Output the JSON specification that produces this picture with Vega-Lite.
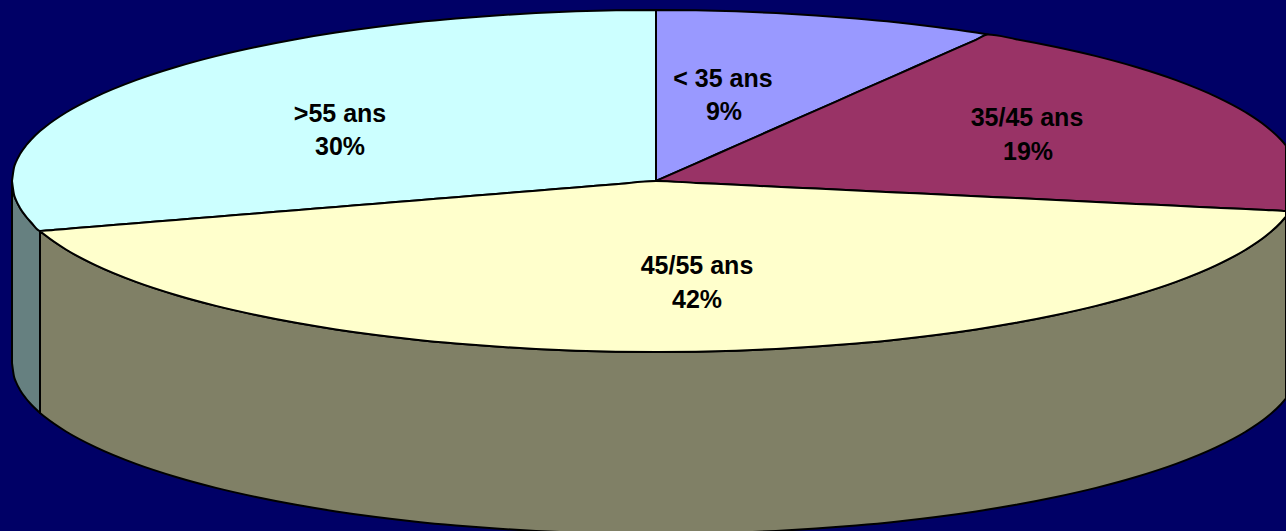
{"$schema":"https://vega.github.io/schema/vega-lite/v6.json","width":1286,"height":531,"autosize":{"type":"fit","contains":"padding"},"padding":0,"background":"#000066","view":{"stroke":null},"layer":[{"data":{"values":[
{"slice":"side-teal","x":12,"y":181,"y2":363},{"slice":"side-teal","x":14,"y":194.5,"y2":376.5},{"slice":"side-teal","x":16,"y":200,"y2":382},{"slice":"side-teal","x":20,"y":207.9,"y2":389.9},{"slice":"side-teal","x":26,"y":216.5,"y2":398.5},{"slice":"side-teal","x":31,"y":222.2,"y2":404.2},{"slice":"side-teal","x":40,"y":230.9,"y2":412.9},
{"slice":"side-olive","x":40,"y":230.9,"y2":412.9},{"slice":"side-olive","x":46,"y":235.8,"y2":417.8},{"slice":"side-olive","x":66,"y":249.5,"y2":431.5},{"slice":"side-olive","x":96,"y":265.4,"y2":447.4},{"slice":"side-olive","x":136,"y":281.9,"y2":463.9},{"slice":"side-olive","x":176,"y":295,"y2":477},{"slice":"side-olive","x":216,"y":305.9,"y2":487.9},{"slice":"side-olive","x":256,"y":315,"y2":497},{"slice":"side-olive","x":296,"y":322.8,"y2":504.8},{"slice":"side-olive","x":336,"y":329.4,"y2":511.4},{"slice":"side-olive","x":376,"y":335,"y2":517},{"slice":"side-olive","x":416,"y":339.7,"y2":521.7},{"slice":"side-olive","x":456,"y":343.5,"y2":525.5},{"slice":"side-olive","x":496,"y":346.6,"y2":528.6},{"slice":"side-olive","x":536,"y":349,"y2":531},{"slice":"side-olive","x":576,"y":350.7,"y2":532.7},{"slice":"side-olive","x":616,"y":351.7,"y2":533.7},{"slice":"side-olive","x":656,"y":352,"y2":534},{"slice":"side-olive","x":696,"y":351.7,"y2":533.7},{"slice":"side-olive","x":736,"y":350.7,"y2":532.7},{"slice":"side-olive","x":776,"y":349,"y2":531},{"slice":"side-olive","x":816,"y":346.6,"y2":528.6},{"slice":"side-olive","x":856,"y":343.5,"y2":525.5},{"slice":"side-olive","x":896,"y":339.7,"y2":521.7},{"slice":"side-olive","x":936,"y":335,"y2":517},{"slice":"side-olive","x":976,"y":329.4,"y2":511.4},{"slice":"side-olive","x":1016,"y":322.8,"y2":504.8},{"slice":"side-olive","x":1056,"y":315,"y2":497},{"slice":"side-olive","x":1096,"y":305.9,"y2":487.9},{"slice":"side-olive","x":1136,"y":295,"y2":477},{"slice":"side-olive","x":1176,"y":281.9,"y2":463.9},{"slice":"side-olive","x":1216,"y":265.4,"y2":447.4},{"slice":"side-olive","x":1246,"y":249.5,"y2":431.5},{"slice":"side-olive","x":1266,"y":235.8,"y2":417.8},{"slice":"side-olive","x":1281,"y":222.2,"y2":404.2},{"slice":"side-olive","x":1286,"y":216.5,"y2":398.5},
{"slice":">55 ans","x":12,"y":181,"y2":181},{"slice":">55 ans","x":14,"y":167.5,"y2":194.5},{"slice":">55 ans","x":16,"y":162,"y2":200},{"slice":">55 ans","x":20,"y":154.1,"y2":207.9},{"slice":">55 ans","x":26,"y":145.5,"y2":216.5},{"slice":">55 ans","x":31,"y":139.8,"y2":222.2},{"slice":">55 ans","x":40,"y":131.1,"y2":230.9},{"slice":">55 ans","x":46,"y":126.2,"y2":230.5},{"slice":">55 ans","x":66,"y":112.5,"y2":228.9},{"slice":">55 ans","x":96,"y":96.6,"y2":226.5},{"slice":">55 ans","x":136,"y":80.1,"y2":223.2},{"slice":">55 ans","x":176,"y":67,"y2":220},{"slice":">55 ans","x":216,"y":56.1,"y2":216.7},{"slice":">55 ans","x":256,"y":47,"y2":213.5},{"slice":">55 ans","x":296,"y":39.2,"y2":210.2},{"slice":">55 ans","x":336,"y":32.6,"y2":207},{"slice":">55 ans","x":376,"y":27,"y2":203.7},{"slice":">55 ans","x":416,"y":22.3,"y2":200.5},{"slice":">55 ans","x":456,"y":18.5,"y2":197.2},{"slice":">55 ans","x":496,"y":15.4,"y2":194},{"slice":">55 ans","x":536,"y":13,"y2":190.7},{"slice":">55 ans","x":576,"y":11.3,"y2":187.5},{"slice":">55 ans","x":616,"y":10.3,"y2":184.2},{"slice":">55 ans","x":656,"y":10,"y2":181},
{"slice":"< 35 ans","x":656,"y":10,"y2":181},{"slice":"< 35 ans","x":696,"y":10.3,"y2":163.3},{"slice":"< 35 ans","x":736,"y":11.3,"y2":145.7},{"slice":"< 35 ans","x":776,"y":13,"y2":128},{"slice":"< 35 ans","x":816,"y":15.4,"y2":110.4},{"slice":"< 35 ans","x":856,"y":18.5,"y2":92.7},{"slice":"< 35 ans","x":896,"y":22.3,"y2":75.1},{"slice":"< 35 ans","x":936,"y":27,"y2":57.4},{"slice":"< 35 ans","x":976,"y":32.6,"y2":39.8},{"slice":"< 35 ans","x":988,"y":34.5,"y2":34.5},
{"slice":"35/45 ans","x":656,"y":181,"y2":181},{"slice":"35/45 ans","x":696,"y":163.3,"y2":182.9},{"slice":"35/45 ans","x":736,"y":145.7,"y2":184.8},{"slice":"35/45 ans","x":776,"y":128,"y2":186.7},{"slice":"35/45 ans","x":816,"y":110.4,"y2":188.6},{"slice":"35/45 ans","x":856,"y":92.7,"y2":190.5},{"slice":"35/45 ans","x":896,"y":75.1,"y2":192.4},{"slice":"35/45 ans","x":936,"y":57.4,"y2":194.3},{"slice":"35/45 ans","x":976,"y":39.8,"y2":196.2},{"slice":"35/45 ans","x":988,"y":34.5,"y2":196.8},{"slice":"35/45 ans","x":1016,"y":39.2,"y2":198.1},{"slice":"35/45 ans","x":1056,"y":47,"y2":200},{"slice":"35/45 ans","x":1096,"y":56.1,"y2":202},{"slice":"35/45 ans","x":1136,"y":67,"y2":203.9},{"slice":"35/45 ans","x":1176,"y":80.1,"y2":205.8},{"slice":"35/45 ans","x":1216,"y":96.6,"y2":207.7},{"slice":"35/45 ans","x":1246,"y":112.5,"y2":209.1},{"slice":"35/45 ans","x":1266,"y":126.2,"y2":210},{"slice":"35/45 ans","x":1281,"y":139.8,"y2":210.8},{"slice":"35/45 ans","x":1286,"y":145.5,"y2":211},
{"slice":"45/55 ans","x":40,"y":230.9,"y2":230.9},{"slice":"45/55 ans","x":46,"y":230.5,"y2":235.8},{"slice":"45/55 ans","x":66,"y":228.9,"y2":249.5},{"slice":"45/55 ans","x":96,"y":226.5,"y2":265.4},{"slice":"45/55 ans","x":136,"y":223.2,"y2":281.9},{"slice":"45/55 ans","x":176,"y":220,"y2":295},{"slice":"45/55 ans","x":216,"y":216.7,"y2":305.9},{"slice":"45/55 ans","x":256,"y":213.5,"y2":315},{"slice":"45/55 ans","x":296,"y":210.2,"y2":322.8},{"slice":"45/55 ans","x":336,"y":207,"y2":329.4},{"slice":"45/55 ans","x":376,"y":203.7,"y2":335},{"slice":"45/55 ans","x":416,"y":200.5,"y2":339.7},{"slice":"45/55 ans","x":456,"y":197.2,"y2":343.5},{"slice":"45/55 ans","x":496,"y":194,"y2":346.6},{"slice":"45/55 ans","x":536,"y":190.7,"y2":349},{"slice":"45/55 ans","x":576,"y":187.5,"y2":350.7},{"slice":"45/55 ans","x":616,"y":184.2,"y2":351.7},{"slice":"45/55 ans","x":656,"y":181,"y2":352},{"slice":"45/55 ans","x":696,"y":182.9,"y2":351.7},{"slice":"45/55 ans","x":736,"y":184.8,"y2":350.7},{"slice":"45/55 ans","x":776,"y":186.7,"y2":349},{"slice":"45/55 ans","x":816,"y":188.6,"y2":346.6},{"slice":"45/55 ans","x":856,"y":190.5,"y2":343.5},{"slice":"45/55 ans","x":896,"y":192.4,"y2":339.7},{"slice":"45/55 ans","x":936,"y":194.3,"y2":335},{"slice":"45/55 ans","x":976,"y":196.2,"y2":329.4},{"slice":"45/55 ans","x":1016,"y":198.1,"y2":322.8},{"slice":"45/55 ans","x":1056,"y":200,"y2":315},{"slice":"45/55 ans","x":1096,"y":202,"y2":305.9},{"slice":"45/55 ans","x":1136,"y":203.9,"y2":295},{"slice":"45/55 ans","x":1176,"y":205.8,"y2":281.9},{"slice":"45/55 ans","x":1216,"y":207.7,"y2":265.4},{"slice":"45/55 ans","x":1246,"y":209.1,"y2":249.5},{"slice":"45/55 ans","x":1266,"y":210,"y2":235.8},{"slice":"45/55 ans","x":1281,"y":210.8,"y2":222.2},{"slice":"45/55 ans","x":1286,"y":211,"y2":216.5}
]},"mark":{"type":"area","clip":true,"stroke":"#000000","strokeWidth":2,"strokeJoin":"round","interpolate":"monotone","opacity":1},"encoding":{"x":{"field":"x","type":"quantitative","scale":{"domain":[0,1286],"nice":false,"zero":false},"axis":null},"y":{"field":"y","type":"quantitative","stack":null,"scale":{"domain":[531,0],"nice":false,"zero":false},"axis":null},"y2":{"field":"y2"},"color":{"field":"slice","type":"nominal","legend":null,"sort":["side-teal","side-olive",">55 ans","< 35 ans","35/45 ans","45/55 ans"],"scale":{"domain":["side-teal","side-olive",">55 ans","< 35 ans","35/45 ans","45/55 ans"],"range":["#668080","#808066","#CCFFFF","#9999FF","#993366","#FFFFCC"]}}}},
{"data":{"values":[{"t":">55 ans","x":340,"y":114},{"t":"30%","x":340,"y":147},{"t":"< 35 ans","x":723,"y":79},{"t":"9%","x":724,"y":112},{"t":"35/45 ans","x":1027,"y":118},{"t":"19%","x":1028,"y":152},{"t":"45/55 ans","x":697,"y":266},{"t":"42%","x":697,"y":300}]},"mark":{"type":"text","font":"Liberation Sans","fontWeight":"bold","fontSize":25,"color":"#000000","align":"center","baseline":"middle"},"encoding":{"x":{"field":"x","type":"quantitative","scale":{"domain":[0,1286],"nice":false,"zero":false},"axis":null},"y":{"field":"y","type":"quantitative","scale":{"domain":[531,0],"nice":false,"zero":false},"axis":null},"text":{"field":"t"}}}
]}
